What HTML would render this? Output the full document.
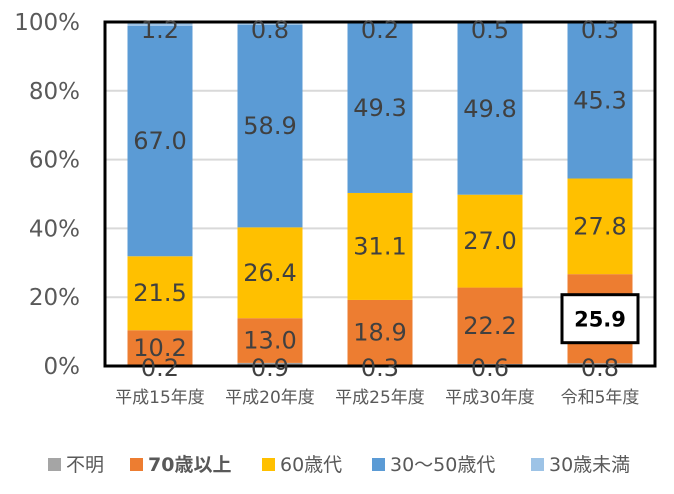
<!DOCTYPE html>
<html><head><meta charset="utf-8"><style>
body{margin:0;background:#fff;}
svg text{font-family:"DejaVu Sans","Noto Sans CJK JP",sans-serif;}
</style></head><body>
<svg id="chart" width="674" height="489" viewBox="0 0 674 489" xmlns="http://www.w3.org/2000/svg">
<g id="grid"></g>
<g id="bars"></g>
<rect x="105" y="22" width="550" height="344" fill="none" stroke="#000" stroke-width="3"/>
<g id="labels"></g>
<g id="yaxis"></g>
<g id="xaxis"></g>
<g id="legend"></g>
</svg>
<script>
const categories=["平成15年度","平成20年度","平成25年度","平成30年度","令和5年度"];
const seriesNames=["不明","70歳以上","60歳代","30～50歳代","30歳未満"];
const unknown=[0.2,0.9,0.3,0.6,0.8];
const age70=[10.2,13.0,18.9,22.2,25.9];
const age60=[21.5,26.4,31.1,27.0,27.8];
const age30to50=[67.0,58.9,49.3,49.8,45.3];
const under30=[1.2,0.8,0.2,0.5,0.3];
const yTicks=[0,20,40,60,80,100];
const colors=["#a5a5a5","#ed7d31","#ffc000","#5b9bd5","#9dc3e6"];
const series=[unknown,age70,age60,age30to50,under30];
const NS="http://www.w3.org/2000/svg";
const L=105,T=22,W=550,H=344;
const y=v=>T+H-(v/100)*H;
const xc=i=>L+W/categories.length*(i+0.5);
const bw=65;
function mk(tag,attrs,parent){const e=document.createElementNS(NS,tag);for(const k in attrs)e.setAttribute(k,attrs[k]);parent.appendChild(e);return e;}
const grid=document.getElementById('grid'),bars=document.getElementById('bars'),labels=document.getElementById('labels'),yaxis=document.getElementById('yaxis'),xaxis=document.getElementById('xaxis'),legend=document.getElementById('legend');
yTicks.forEach(t=>{
  if(t>0&&t<100){const g=mk('line',{x1:L,x2:L+W,y1:y(t),y2:y(t),stroke:'#d9d9d9','stroke-width':2},grid);
  
  }
  const tx=mk('text',{x:80,y:y(t)+8,'text-anchor':'end','font-size':23,fill:'#595959'},yaxis);
  tx.textContent=t+'%';
  
  
});
categories.forEach((c,i)=>{
  let cum=0;
  series.forEach((s,k)=>{
    const v=s[i];const y0=y(cum),y1=y(cum+v);
    const r=mk('rect',{x:xc(i)-bw/2,y:y1,width:bw,height:Math.max(0,y0-y1),fill:colors[k]},bars);
    
    
    let ly=(y0+y1)/2;
    if(k===0) ly=y(0)+2;
    if(k===4) ly=Math.max(ly,T+8);
    const bold=(k===1&&i===4);
    if(bold){const b=mk('rect',{x:xc(i)-38,y:ly-24,width:76,height:48,fill:'#fff',stroke:'#000','stroke-width':3},labels);
      
      }
    const t=mk('text',{x:xc(i),y:ly+8,'text-anchor':'middle','font-size':bold?21:24,'font-weight':bold?'bold':'normal',fill:bold?'#000':'#404040'},labels);
    t.textContent=v.toFixed(1);
    
    
    cum+=v;
  });
  const ct=mk('text',{x:xc(i),y:403,'text-anchor':'middle','font-size':17,fill:'#595959'},xaxis);
  ct.textContent=c;
  
  
});
const legX=[48,130,262,372,531];
seriesNames.forEach((n,k)=>{
  const s=mk('rect',{x:legX[k],y:458,width:13,height:13,fill:colors[k]},legend);
  
  
  const t=mk('text',{x:legX[k]+18,y:471,'font-size':19,fill:'#595959','font-weight':k===1?'bold':'normal'},legend);
  t.textContent=n;
  
  
});
</script>
</body></html>
